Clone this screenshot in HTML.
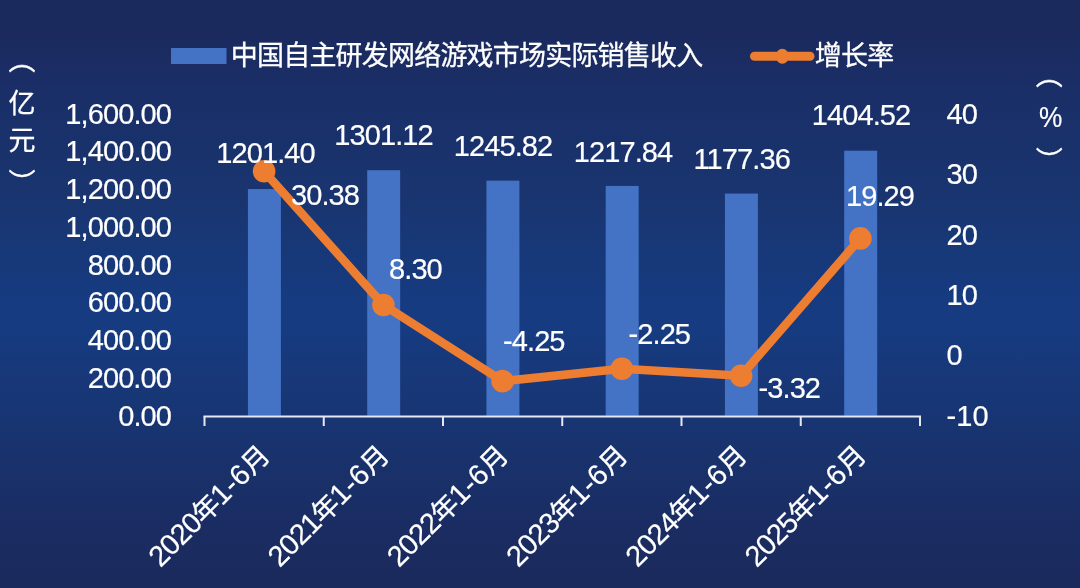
<!DOCTYPE html>
<html lang="zh-CN"><head><meta charset="utf-8"><title>中国自主研发网络游戏市场实际销售收入</title>
<style>
html,body{margin:0;padding:0;background:#1a2f6e}
body{width:1080px;height:588px;overflow:hidden}
svg{display:block}
text{font-family:"Liberation Sans","Noto Sans CJK SC",sans-serif;fill:#fff}
.n{font-size:29px;letter-spacing:-0.9px;stroke:#fff;stroke-width:0.2px}
.c{font-size:27px;letter-spacing:-0.8px;stroke:#fff;stroke-width:0.3px}
</style></head><body>
<svg width="1080" height="588" viewBox="0 0 1080 588">
<defs>
<linearGradient id="bg" x1="0" y1="0" x2="0" y2="1">
<stop offset="0" stop-color="#1b2a5c"/>
<stop offset="0.05" stop-color="#1b2a5d"/>
<stop offset="0.146" stop-color="#1a2e67"/>
<stop offset="0.34" stop-color="#193570"/>
<stop offset="0.51" stop-color="#163b80"/>
<stop offset="0.56" stop-color="#163b80"/>
<stop offset="0.63" stop-color="#17387a"/>
<stop offset="0.74" stop-color="#183470"/>
<stop offset="0.78" stop-color="#19326c"/>
<stop offset="0.9" stop-color="#1a2c62"/>
<stop offset="1" stop-color="#1b2a5c"/>
</linearGradient>
</defs>
<rect width="1080" height="588" fill="url(#bg)"/>

<rect x="171" y="48" width="55.5" height="16" fill="#4472c4"/>
<text class="c" x="230.8" y="64.5">中国自主研发网络游戏市场实际销售收入</text>
<line x1="754.5" y1="56.3" x2="810" y2="56.3" stroke="#ed7d31" stroke-width="9" stroke-linecap="round"/>
<ellipse cx="782.3" cy="56.3" rx="6.6" ry="7.5" fill="#ed7d31"/>
<text class="c" x="814.8" y="64.5">增长率</text>
<text class="n" x="171" y="425.50" text-anchor="end">0.00</text>
<text class="n" x="171" y="387.75" text-anchor="end">200.00</text>
<text class="n" x="171" y="350.00" text-anchor="end">400.00</text>
<text class="n" x="171" y="312.25" text-anchor="end">600.00</text>
<text class="n" x="171" y="274.50" text-anchor="end">800.00</text>
<text class="n" x="171" y="236.75" text-anchor="end">1,000.00</text>
<text class="n" x="171" y="199.00" text-anchor="end">1,200.00</text>
<text class="n" x="171" y="161.25" text-anchor="end">1,400.00</text>
<text class="n" x="171" y="123.50" text-anchor="end">1,600.00</text>
<text class="n" x="946.5" y="425.70" style="letter-spacing:0.1px">-10</text>
<text class="n" x="946.5" y="365.30">0</text>
<text class="n" x="946.5" y="304.90">10</text>
<text class="n" x="946.5" y="244.50">20</text>
<text class="n" x="946.5" y="184.10">30</text>
<text class="n" x="946.5" y="123.70">40</text>
<rect x="247.93" y="189.04" width="33" height="226.76" fill="#4472c4"/>
<rect x="367.18" y="170.21" width="33" height="245.59" fill="#4472c4"/>
<rect x="486.43" y="180.65" width="33" height="235.15" fill="#4472c4"/>
<rect x="605.67" y="185.93" width="33" height="229.87" fill="#4472c4"/>
<rect x="724.92" y="193.57" width="33" height="222.23" fill="#4472c4"/>
<rect x="844.17" y="150.70" width="33" height="265.10" fill="#4472c4"/>
<path d="M203.5 416.5 H921" stroke="#e6e9f2" stroke-width="2" fill="none"/>
<path d="M204.50 416.5 V426.0" stroke="#e6e9f2" stroke-width="2" fill="none"/>
<path d="M323.75 416.5 V426.0" stroke="#e6e9f2" stroke-width="2" fill="none"/>
<path d="M443.00 416.5 V426.0" stroke="#e6e9f2" stroke-width="2" fill="none"/>
<path d="M562.25 416.5 V426.0" stroke="#e6e9f2" stroke-width="2" fill="none"/>
<path d="M681.50 416.5 V426.0" stroke="#e6e9f2" stroke-width="2" fill="none"/>
<path d="M800.75 416.5 V426.0" stroke="#e6e9f2" stroke-width="2" fill="none"/>
<path d="M920.00 416.5 V426.0" stroke="#e6e9f2" stroke-width="2" fill="none"/>
<polyline points="264.12,171.30 383.38,304.97 502.62,381.17 621.88,368.69 741.12,375.75 860.38,238.39" fill="none" stroke="#ed7d31" stroke-width="8.6" stroke-linejoin="round" stroke-linecap="round"/>
<circle cx="264.12" cy="171.30" r="11.3" fill="#ed7d31"/>
<circle cx="383.38" cy="304.97" r="11.3" fill="#ed7d31"/>
<circle cx="502.62" cy="381.17" r="11.3" fill="#ed7d31"/>
<circle cx="621.88" cy="368.69" r="11.3" fill="#ed7d31"/>
<circle cx="741.12" cy="375.75" r="11.3" fill="#ed7d31"/>
<circle cx="860.38" cy="238.39" r="11.3" fill="#ed7d31"/>
<text class="n" x="265.5" y="162.5" text-anchor="middle">1201.40</text>
<text class="n" x="383.5" y="145" text-anchor="middle">1301.12</text>
<text class="n" x="503" y="156" text-anchor="middle">1245.82</text>
<text class="n" x="623" y="161.5" text-anchor="middle">1217.84</text>
<text class="n" x="741.75" y="168.5" text-anchor="middle">1177.36</text>
<text class="n" x="861" y="125" text-anchor="middle">1404.52</text>
<text class="n" x="291" y="205">30.38</text>
<text class="n" x="389" y="278.5">8.30</text>
<text class="n" x="503" y="351.25">-4.25</text>
<text class="n" x="628.5" y="344">-2.25</text>
<text class="n" x="758.5" y="398">-3.32</text>
<text class="n" x="846" y="206">19.29</text>
<text class="c" text-anchor="end" transform="translate(271.12 457.50) rotate(-45)"><tspan class="n">2020</tspan>年<tspan class="n" style="letter-spacing:0.4px">1-6</tspan>月</text>
<text class="c" text-anchor="end" transform="translate(390.38 457.50) rotate(-45)"><tspan class="n">2021</tspan>年<tspan class="n" style="letter-spacing:0.4px">1-6</tspan>月</text>
<text class="c" text-anchor="end" transform="translate(509.62 457.50) rotate(-45)"><tspan class="n">2022</tspan>年<tspan class="n" style="letter-spacing:0.4px">1-6</tspan>月</text>
<text class="c" text-anchor="end" transform="translate(628.88 457.50) rotate(-45)"><tspan class="n">2023</tspan>年<tspan class="n" style="letter-spacing:0.4px">1-6</tspan>月</text>
<text class="c" text-anchor="end" transform="translate(748.12 457.50) rotate(-45)"><tspan class="n">2024</tspan>年<tspan class="n" style="letter-spacing:0.4px">1-6</tspan>月</text>
<text class="c" text-anchor="end" transform="translate(867.38 457.50) rotate(-45)"><tspan class="n">2025</tspan>年<tspan class="n" style="letter-spacing:0.4px">1-6</tspan>月</text>
<text class="c" x="22" y="69.5" text-anchor="middle" style="letter-spacing:0">︵</text>
<text class="c" x="22" y="112.6" text-anchor="middle" style="letter-spacing:0">亿</text>
<text class="c" x="22" y="150" text-anchor="middle" style="letter-spacing:0">元</text>
<text class="c" x="22" y="192.5" text-anchor="middle" style="letter-spacing:0">︶</text>
<text class="c" x="1049.2" y="85" text-anchor="middle" style="letter-spacing:0">︵</text>
<text class="n" x="1050.3" y="126.6" text-anchor="middle" textLength="22.5" lengthAdjust="spacingAndGlyphs">%</text>
<text class="c" x="1049.2" y="171" text-anchor="middle" style="letter-spacing:0">︶</text>
</svg></body></html>
